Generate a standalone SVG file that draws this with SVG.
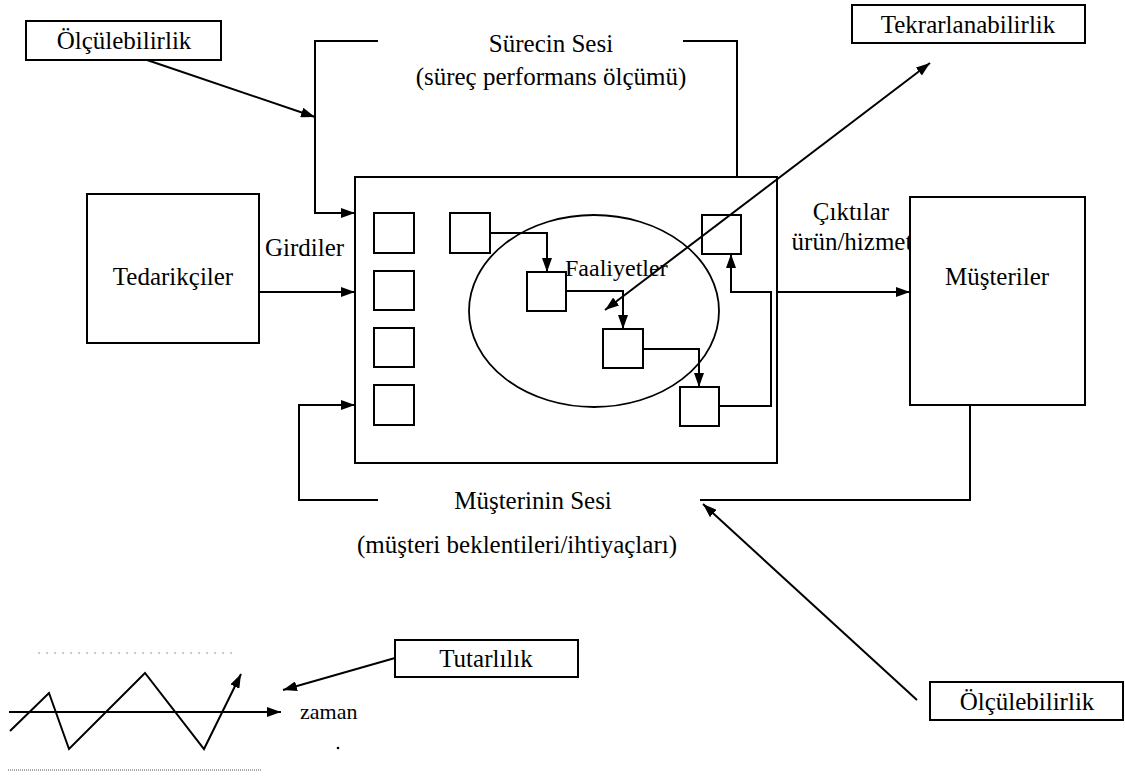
<svg xmlns="http://www.w3.org/2000/svg" width="1125" height="782" viewBox="0 0 1125 782" font-family="Liberation Serif, DejaVu Serif, serif">
<defs>
<marker id="ah" viewBox="0 0 14 10" refX="14" refY="5" markerWidth="14" markerHeight="10" orient="auto-start-reverse" markerUnits="userSpaceOnUse"><path d="M0,0 L14,5 L0,10 z" fill="#000"/></marker>
<style>
.b{fill:#fff;stroke:#000;stroke-width:2}
.s{fill:none;stroke:#000;stroke-width:1.8}
.c{fill:none;stroke:#000;stroke-width:2}
.a{marker-end:url(#ah)}
text{font-family:'Liberation Serif','DejaVu Serif',serif;font-size:25px;fill:#000}
.m{text-anchor:middle}
</style>
</defs>
<rect width="1125" height="782" fill="#fff"/>

<g id="olcum1"><rect class="b" x="26" y="21" width="195" height="39"/><text class="m" x="124" y="49">Ölçülebilirlik</text></g>
<g id="surecin-sesi"><text class="m" x="551" y="52">Sürecin Sesi</text><text class="m" x="551" y="85">(süreç performans ölçümü)</text></g>
<g id="tekrar"><rect class="b" x="852" y="5" width="233" height="38"/><text class="m" x="968" y="33">Tekrarlanabilirlik</text></g>

<g id="tedarikciler"><rect class="b" x="87" y="194" width="172" height="149"/><text class="m" x="173" y="285">Tedarikçiler</text></g>
<text x="265" y="256">Girdiler</text>

<g id="surec">
<rect class="b" x="355" y="177" width="422" height="286"/>
<ellipse class="s" cx="594" cy="311" rx="125" ry="96"/>
<rect class="b" x="374" y="213" width="40" height="40"/>
<rect class="b" x="374" y="271" width="40" height="39"/>
<rect class="b" x="374" y="328" width="40" height="39"/>
<rect class="b" x="374" y="385" width="40" height="40"/>
</g>
<g id="faaliyetler">
<rect class="b" x="450" y="213" width="40" height="40"/>
<rect class="b" x="527" y="272" width="39" height="39"/>
<rect class="b" x="603" y="329" width="40" height="39"/>
<rect class="b" x="680" y="387" width="39" height="39"/>
<rect class="b" x="702" y="215" width="39" height="39"/>
<text x="565" y="276" style="font-size:24px">Faaliyetler</text>
</g>

<g id="ciktilar"><text class="m" x="851" y="220">Çıktılar</text><text class="m" x="852" y="250">ürün/hizmet</text></g>
<g id="musteriler"><rect class="b" x="910" y="197" width="175" height="208"/><text class="m" x="997" y="285">Müşteriler</text></g>

<g id="musterinin-sesi"><text class="m" x="533" y="509">Müşterinin Sesi</text><text class="m" x="517" y="553">(müşteri beklentileri/ihtiyaçları)</text></g>
<g id="olcum2"><rect class="b" x="930" y="682" width="193" height="38"/><text class="m" x="1027" y="710">Ölçülebilirlik</text></g>
<g id="tutarlilik"><rect class="b" x="395" y="640" width="183" height="37"/><text class="m" x="486" y="667">Tutarlılık</text></g>

<g id="grafik">
<path class="c a" d="M9,712 H281"/>
<path class="c a" d="M10,731 L49,693 L69,749 L145,673 L204,749 L241,674"/>
<text x="300" y="719" style="font-size:22px">zaman</text>
<line x1="38" y1="653" x2="238" y2="653" stroke="#999" stroke-width="1" stroke-dasharray="2,6"/>
<line x1="8" y1="770" x2="262" y2="770" stroke="#555" stroke-width="1.2" stroke-dasharray="1,1"/>
<circle cx="338" cy="748" r="1.3" fill="#000"/>
</g>

<g id="connectors">
<path class="c a" d="M147,60 L315,117"/>
<path class="c a" d="M378,41 H315 V213 H355"/>
<path class="c" d="M683,41 H737 V177"/>
<path class="c a" d="M260,292 H355"/>
<path class="c a" d="M777,292 H910"/>
<path class="c a" d="M378,500 H299 V405 H355"/>
<path class="c" d="M700,500 H970 V405"/>
<path class="c a" d="M917,700 L703,504"/>
<path class="c a" d="M490,233 H547 V272"/>
<path class="c a" d="M566,291 H623 V329"/>
<path class="c a" d="M643,349 H699 V387"/>
<path class="c a" d="M719,406 H771 V292 H731 V254"/>
<path class="c a" d="M605,310 L930,63" marker-start="url(#ah)"/>
<path class="c a" d="M395,658 L283,690"/>
</g>
</svg>
